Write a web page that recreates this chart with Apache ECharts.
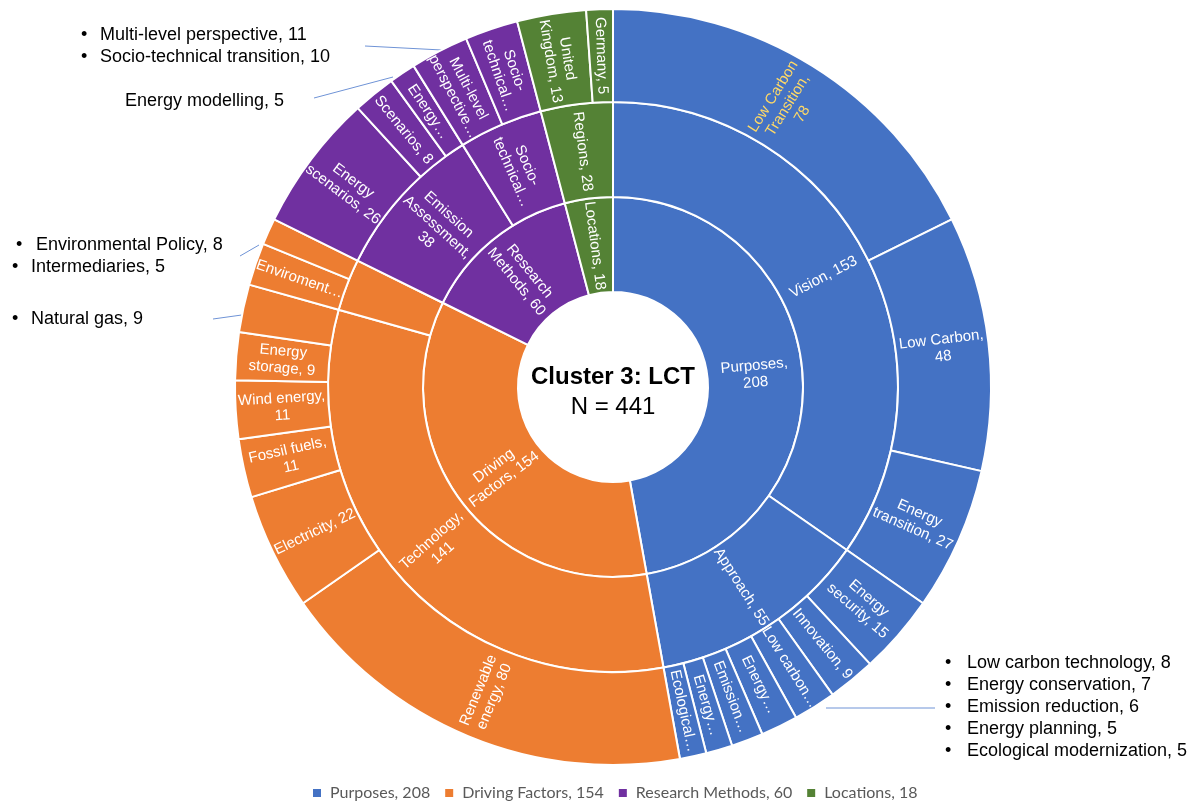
<!DOCTYPE html>
<html lang="en">
  <head>
    <meta charset="utf-8" />
    <style>
      html,
      body {
        margin: 0;
        width: 100%;
        height: 100%;
        background-color: #fff;
      }
      #container {
        width: 1195px;
        height: 801px;
      }
    </style>
    <script src="https://cdn.jsdelivr.net/npm/echarts@6/dist/echarts.min.js"></script>
  </head>

  <body>
    <div id="container"></div>

    <script>
      // top level (inner ring)
      var groupNames = ["Purposes", "Driving Factors", "Research Methods", "Locations"];
      var groupTotals = [208, 154, 60, 18];
      var groupColors = ["#4472C4", "#ED7D31", "#7030A0", "#548235"];
      var groupLabels = ["Purposes,\n208", "Driving\nFactors, 154", "Research\nMethods, 60", "Locations, 18"];

      // middle ring
      var subNames = [
        ["Vision", "Approach"],
        ["Technology", "Policy"],
        ["Emission Assessment", "Socio-technical"],
        ["Regions"]
      ];
      var subLabels = [
        ["Vision, 153", "Approach, 55"],
        ["Technology,\n141", ""],
        ["Emission\nAssessment,\n38", "Socio-\ntechnical…"],
        ["Regions, 28"]
      ];

      // outer ring
      var leafNames = [
        [
          ["Low Carbon Transition", "Low Carbon", "Energy transition"],
          ["Energy security", "Innovation", "Low carbon technology", "Energy conservation", "Emission reduction", "Energy planning", "Ecological modernization"]
        ],
        [
          ["Renewable energy", "Electricity", "Fossil fuels", "Wind energy", "Energy storage", "Natural gas"],
          ["Environmental Policy", "Intermediaries"]
        ],
        [
          ["Energy scenarios", "Scenarios", "Energy modelling"],
          ["Multi-level perspective", "Socio-technical transition"]
        ],
        [["United Kingdom", "Germany"]]
      ];
      var leafValues = [
        [[78, 48, 27], [15, 9, 8, 7, 6, 5, 5]],
        [[80, 22, 11, 11, 9, 9], [8, 5]],
        [[26, 8, 5], [11, 10]],
        [[13, 5]]
      ];
      var leafLabels = [
        [
          ["Low Carbon\nTransition,\n78", "Low Carbon,\n48", "Energy\ntransition, 27"],
          ["Energy\nsecurity, 15", "Innovation, 9", "Low carbon…", "Energy…", "Emission…", "Energy…", "Ecological…"]
        ],
        [
          ["Renewable\nenergy, 80", "Electricity, 22", "Fossil fuels,\n11", "Wind energy,\n11", "Energy\nstorage, 9", ""],
          ["Enviroment…", ""]
        ],
        [
          ["Energy\nscenarios, 26", "Scenarios, 8", "Energy…"],
          ["Multi-level\nperspective…", "Socio-\ntechnical…"]
        ],
        [["United\nKingdom, 13", "Germany, 5"]]
      ];

      (function () {
        var chart = echarts.init(document.querySelector("#container"));
        var cx = 613, cy = 387;
        var font = "'Liberation Sans', Arial, sans-serif";

        function lbl(text, extra) {
          if (!text) return { show: false };
          var o = { formatter: text };
          if (extra) for (var k in extra) o[k] = extra[k];
          return o;
        }

        var data = groupNames.map(function (g, i) {
          var col = { color: groupColors[i] };
          return {
            name: g,
            itemStyle: col,
            label: lbl(groupLabels[i]),
            children: subNames[i].map(function (s, j) {
              return {
                name: s,
                itemStyle: col,
                label: lbl(subLabels[i][j]),
                children: leafNames[i][j].map(function (l, k) {
                  var extra = l === "Low Carbon Transition" ? { color: "#FFD966" } : null;
                  return {
                    name: l,
                    value: leafValues[i][j][k],
                    itemStyle: col,
                    label: lbl(leafLabels[i][j][k], extra)
                  };
                })
              };
            })
          };
        });

        // callouts for the small segments
        function item(i, j, k) {
          return leafNames[i][j][k] + ", " + leafValues[i][j][k];
        }
        var graphics = [];
        function addText(x, y, text, bullet) {
          if (bullet) {
            graphics.push({
              type: "text",
              style: { x: bullet, y: y, text: "•", font: "18px " + font, fill: "#000", verticalAlign: "middle" }
            });
          }
          graphics.push({
            type: "text",
            style: { x: x, y: y, text: text, font: "18px " + font, fill: "#000", verticalAlign: "middle" }
          });
        }
        function addLine(x1, y1, x2, y2) {
          graphics.push({
            type: "line",
            shape: { x1: x1, y1: y1, x2: x2, y2: y2 },
            style: { stroke: "#6F93D6", lineWidth: 1 }
          });
        }

        addText(100, 35, item(2, 1, 0), 81);
        addText(100, 57, item(2, 1, 1), 81);
        addLine(365, 46, 442, 50);

        addText(125, 101, item(2, 0, 2));
        addLine(314, 98, 393, 77);

        addText(36, 245, item(1, 1, 0), 16);
        addText(31, 267, item(1, 1, 1), 12);
        addLine(240, 256, 259, 245);

        addText(31, 319, item(1, 0, 5), 12);
        addLine(213, 319, 256, 313);

        for (var k = 2; k < 7; k++) {
          addText(967, 663 + (k - 2) * 22, item(0, 1, k), 945);
        }
        addLine(826, 708, 935, 708);

        // centre text
        graphics.push({
          type: "text",
          style: { x: cx, y: 377, text: "Cluster 3: LCT", font: "bold 24px " + font, fill: "#000", align: "center", verticalAlign: "middle" }
        });
        graphics.push({
          type: "text",
          style: { x: cx, y: 407, text: "N = 441", font: "24px " + font, fill: "#000", align: "center", verticalAlign: "middle" }
        });

        var legendData = groupNames.map(function (g, i) {
          return { name: g + ", " + groupTotals[i], value: groupTotals[i], itemStyle: { color: groupColors[i] } };
        });

        var option = {
          animation: false,
          color: groupColors,
          legend: {
            left: 308,
            top: 780,
            icon: "rect",
            itemWidth: 8,
            itemHeight: 8,
            itemGap: 15,
            textStyle: { color: "#595959", fontSize: 16, fontFamily: "Lato, sans-serif", padding: [0, 0, 0, 4] },
            data: legendData.map(function (d) { return d.name; })
          },
          graphic: graphics,
          series: [
            {
              type: "sunburst",
              center: [cx, cy],
              radius: [95, 378],
              sort: null,
              nodeClick: false,
              data: data,
              itemStyle: { borderColor: "#fff", borderWidth: 2 },
              label: {
                rotate: "radial",
                color: "#fff",
                fontSize: 15,
                lineHeight: 17,
                fontFamily: font
              },
              emphasis: { disabled: true },
              levels: [
                {},
                { r0: 95, r: 190 },
                { r0: 190, r: 285 },
                { r0: 285, r: 378 }
              ]
            },
            {
              // only feeds the legend
              type: "pie",
              radius: [0, 0],
              center: [cx, cy],
              silent: true,
              label: { show: false },
              labelLine: { show: false },
              data: legendData
            }
          ]
        };
        chart.setOption(option);
      })();
    </script>
  </body>
</html>
